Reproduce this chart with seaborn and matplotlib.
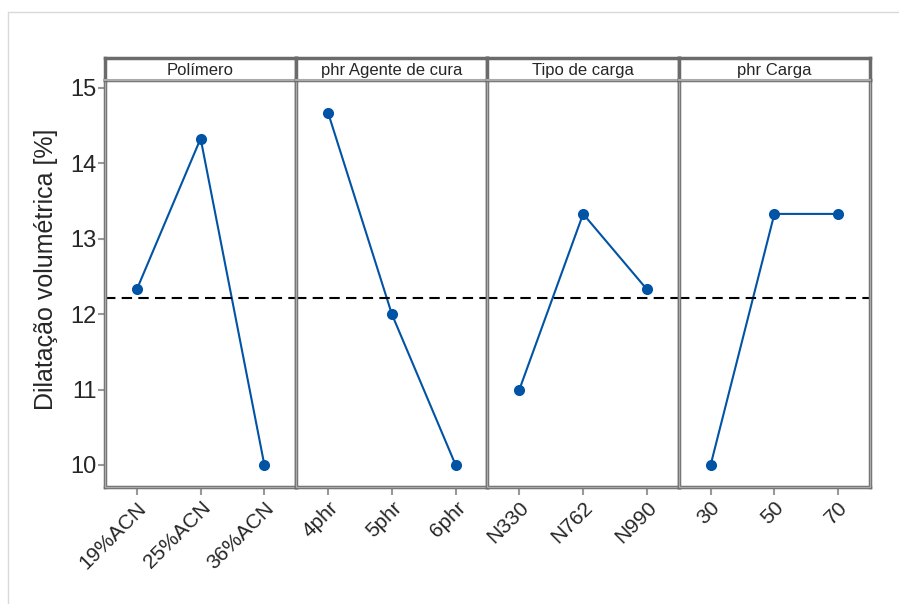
import numpy as np
import pandas as pd
import matplotlib
matplotlib.use('Agg')
import matplotlib.pyplot as plt
import seaborn as sns
from matplotlib.patches import Rectangle
from matplotlib.lines import Line2D

sns.set_style("white")
plt.rcParams['font.family'] = ['Liberation Sans', 'DejaVu Sans']

# factors and level means
factors = ['Polímero', 'phr Agente de cura', 'Tipo de carga', 'phr Carga']
levels_polimero = ['19%ACN', '25%ACN', '36%ACN']
levels_agente = ['4phr', '5phr', '6phr']
levels_tipo = ['N330', 'N762', 'N990']
levels_carga = ['30', '50', '70']
means_polimero = [12.33, 14.33, 10.0]
means_agente = [14.67, 12.0, 10.0]
means_tipo = [11.0, 13.33, 12.33]
means_carga = [10.0, 13.33, 13.33]
grand_mean = 12.22

levels = [levels_polimero, levels_agente, levels_tipo, levels_carga]
means = [means_polimero, means_agente, means_tipo, means_carga]

W, H = 899, 604
fig = plt.figure(figsize=(W / 100, H / 100), dpi=100)

# light outer frame (left and top)
fig.add_artist(Line2D([8 / W, 8 / W], [0, 1 - 12 / H], color='#d9d9d9', lw=1, transform=fig.transFigure))
fig.add_artist(Line2D([8 / W, 1], [1 - 12 / H, 1 - 12 / H], color='#d9d9d9', lw=1, transform=fig.transFigure))

left, right = 105, 870
top_ax, bot_ax, top_strip = 80, 487, 58
pw = (right - left) / 4
line_col = '#0053a5'
frame_col = '#6b6b6b'

for i, (fac, lv, mv) in enumerate(zip(factors, levels, means)):
    x0 = left + i * pw
    ax = fig.add_axes([x0 / W, 1 - bot_ax / H, pw / W, (bot_ax - top_ax) / H])
    df = pd.DataFrame({'x': np.arange(len(lv)), 'y': mv})
    sns.lineplot(data=df, x='x', y='y', ax=ax, color=line_col, lw=1.5,
                 marker='o', markersize=8, markeredgewidth=0)
    ax.axhline(grand_mean, color='black', lw=1.5, ls=(0, (5, 3)))
    ax.set_xlim(-0.5, 2.5)
    ax.set_ylim(9.708, 15.106)
    ax.set_xticks(range(len(lv)))
    ax.set_xticklabels(lv, rotation=45, ha='right', rotation_mode='anchor', fontsize=15)
    ax.set_xlabel('')
    ax.set_ylabel('')
    ax.tick_params(axis='x', bottom=True, length=6, width=1.5, color='#999999', pad=2)
    if i == 0:
        ax.set_yticks([10, 11, 12, 13, 14, 15])
        ax.tick_params(axis='y', left=True, length=5, width=1.5, color='#999999', labelsize=17, pad=1)
        ax.set_ylabel('Dilatação volumétrica [%]', fontsize=18)
        ax.yaxis.set_label_coords(-0.245, 0.535)
    else:
        ax.set_yticks([])
    for s in ax.spines.values():
        s.set_visible(True)
        s.set_color(frame_col)
        s.set_linewidth(2.5)
    ax.add_patch(Rectangle((0, 0), 1, 1, transform=ax.transAxes, fill=False,
                           ec='#aaaaaa', lw=1, zorder=5, clip_on=False))

    # strip header
    sax = fig.add_axes([x0 / W, 1 - top_ax / H, pw / W, (top_ax - top_strip) / H])
    sax.set_xticks([])
    sax.set_yticks([])
    sax.set_facecolor('white')
    for k, s in sax.spines.items():
        s.set_visible(True)
        s.set_color(frame_col)
        s.set_linewidth(2.5)
    sax.spines['bottom'].set_color('#aaaaaa')
    sax.spines['bottom'].set_linewidth(1.5)
    sax.text(0.5, 0.45, fac, ha='center', va='center', fontsize=12, transform=sax.transAxes)

fig.savefig('out.png', dpi=100)
